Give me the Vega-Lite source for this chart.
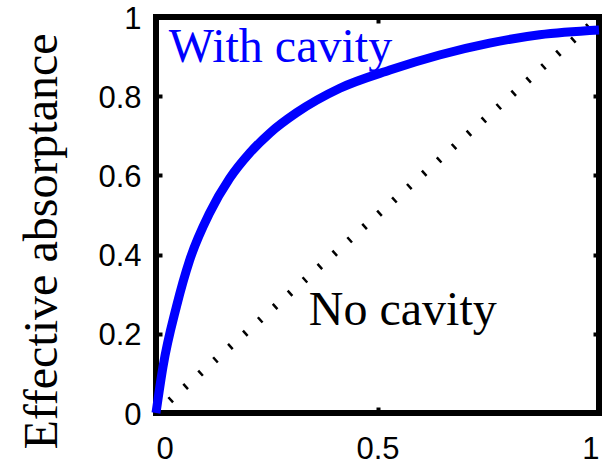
{
  "$schema": "https://vega.github.io/schema/vega-lite/v6.json",
  "width": 443,
  "height": 396,
  "autosize": {"type": "none"},
  "padding": {"left": 156, "top": 17, "right": 11, "bottom": 52},
  "background": "white",
  "config": {
    "view": {"stroke": "black", "strokeWidth": 6},
    "axis": {
      "domain": false,
      "grid": false,
      "labelFont": "Liberation Sans",
      "labelFontSize": 31,
      "labelColor": "black",
      "tickColor": "black",
      "tickSize": -6,
      "tickWidth": 4,
      "titleFont": "Liberation Serif",
      "titleFontSize": 48,
      "titleFontWeight": "normal",
      "titleColor": "black"
    }
  },
  "datasets": {
    "curve": [
      {"t": 0, "a": 0},
      {"t": 0.0158, "a": 0.117},
      {"t": 0.046, "a": 0.268},
      {"t": 0.076, "a": 0.386},
      {"t": 0.121, "a": 0.505},
      {"t": 0.166, "a": 0.592},
      {"t": 0.212, "a": 0.657},
      {"t": 0.257, "a": 0.707},
      {"t": 0.317, "a": 0.758},
      {"t": 0.415, "a": 0.82},
      {"t": 0.528, "a": 0.866},
      {"t": 0.64, "a": 0.904},
      {"t": 0.753, "a": 0.934},
      {"t": 0.866, "a": 0.955},
      {"t": 1.0, "a": 0.967}
    ],
    "diag": [{"t": 0, "a": 0}, {"t": 1, "a": 1}],
    "notes": [
      {"t": 0.281, "a": 0.886, "label": "With cavity", "series": "With cavity"},
      {"t": 0.557, "a": 0.222, "label": "No cavity", "series": "No cavity"}
    ]
  },
  "layer": [
    {
      "data": {"name": "diag"},
      "mark": {"type": "line", "color": "black", "strokeWidth": 7, "strokeDash": [2.5, 17.5], "strokeDashOffset": 1.5, "strokeCap": "butt"},
      "encoding": {
        "x": {"field": "t", "type": "quantitative", "scale": {"domain": [0, 1]},
              "axis": {"orient": "top", "values": [0, 0.5, 1], "labels": false, "title": null}},
        "y": {"field": "a", "type": "quantitative", "scale": {"domain": [0, 1]},
              "axis": {"orient": "right", "values": [0, 0.2, 0.4, 0.6, 0.8, 1], "labels": false, "title": null}}
      }
    },
    {
      "data": {"name": "curve"},
      "mark": {"type": "line", "color": "#0000ff", "strokeWidth": 9, "interpolate": "monotone"},
      "encoding": {
        "x": {"field": "t", "type": "quantitative", "scale": {"domain": [0, 1]},
              "axis": {"orient": "bottom", "values": [0, 0.5, 1], "format": "~g", "labelPadding": 27, "title": null}},
        "y": {"field": "a", "type": "quantitative", "scale": {"domain": [0, 1]},
              "axis": {"orient": "left", "values": [0, 0.2, 0.4, 0.6, 0.8, 1], "format": "~g", "labelPadding": 21, "labelOffset": 2,
                       "title": "Effective absorptance", "titlePadding": 31, "titleY": 224}}
      }
    },
    {
      "data": {"name": "notes"},
      "mark": {"type": "text", "font": "Liberation Serif", "fontSize": 48, "baseline": "alphabetic", "align": "center"},
      "encoding": {
        "x": {"field": "t", "type": "quantitative", "axis": null},
        "y": {"field": "a", "type": "quantitative", "axis": null},
        "text": {"field": "label"},
        "color": {"field": "series", "type": "nominal", "legend": null,
                  "scale": {"domain": ["With cavity", "No cavity"], "range": ["#0000ff", "black"]}}
      }
    }
  ],
  "resolve": {"axis": {"x": "independent", "y": "independent"}}
}
